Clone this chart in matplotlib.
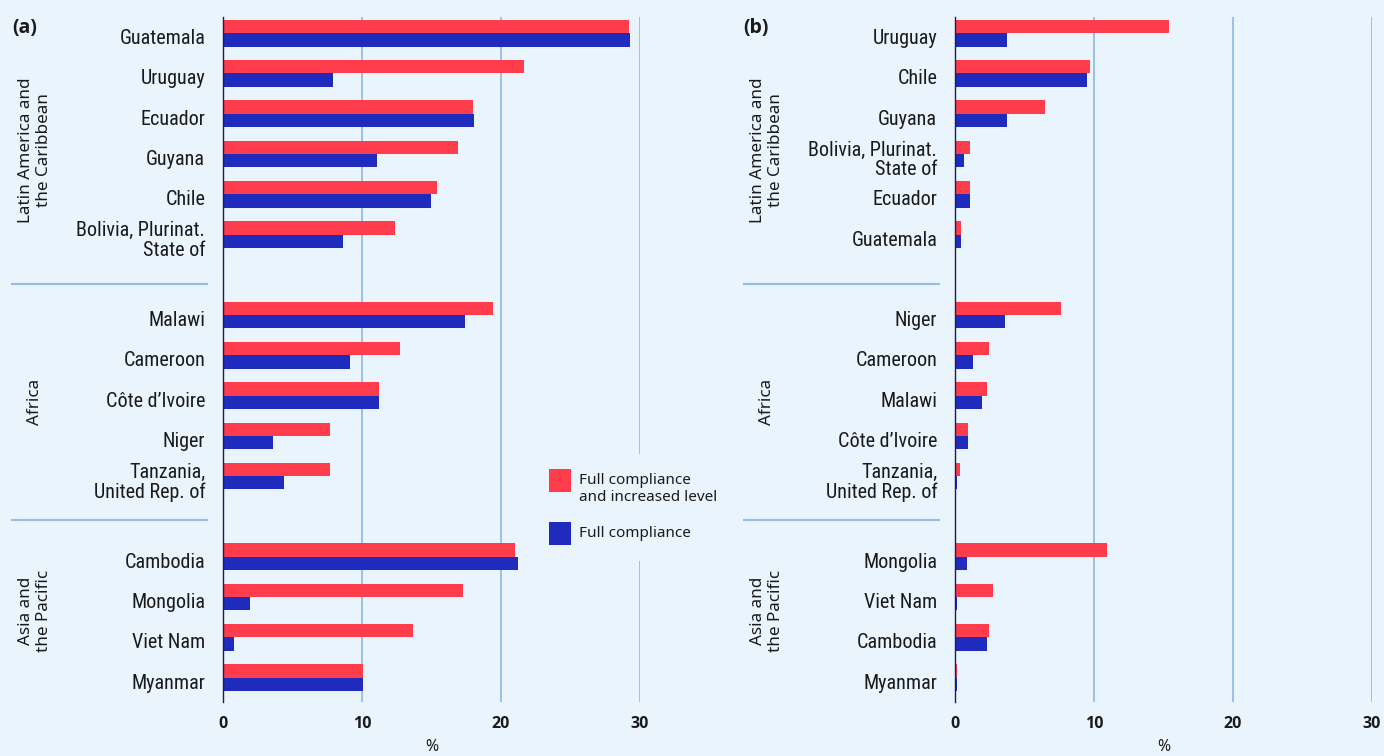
import matplotlib
matplotlib.use("Agg")
import matplotlib.pyplot as plt
from matplotlib import font_manager
from matplotlib.patches import Rectangle
import matplotlib.transforms as mtransforms
import os

# ---- data ----
regions = ["Latin America and\nthe Caribbean", "Africa", "Asia and\nthe Pacific"]

a_countries = ["Guatemala", "Uruguay", "Ecuador", "Guyana", "Chile", "Bolivia, Plurinat.\nState of",
               "Malawi", "Cameroon", "Côte d’Ivoire", "Niger", "Tanzania,\nUnited Rep. of",
               "Cambodia", "Mongolia", "Viet Nam", "Myanmar"]
a_increased = [29.2, 21.7, 18.0, 16.9, 15.4, 12.4,
               19.4, 12.7, 11.2, 7.7, 7.7,
               21.0, 17.3, 13.7, 10.1]
a_full = [29.3, 7.9, 18.1, 11.1, 15.0, 8.6,
          17.4, 9.1, 11.2, 3.6, 4.4,
          21.2, 1.9, 0.8, 10.1]

b_countries = ["Uruguay", "Chile", "Guyana", "Bolivia, Plurinat.\nState of", "Ecuador", "Guatemala",
               "Niger", "Cameroon", "Malawi", "Côte d’Ivoire", "Tanzania,\nUnited Rep. of",
               "Mongolia", "Viet Nam", "Cambodia", "Myanmar"]
b_increased = [15.4, 9.7, 6.5, 1.1, 1.05, 0.4,
               7.6, 2.4, 2.3, 0.9, 0.35,
               10.9, 2.7, 2.4, 0.1]
b_full = [3.7, 9.5, 3.7, 0.65, 1.05, 0.4,
          3.6, 1.3, 1.9, 0.9, 0.13,
          0.85, 0.13, 2.3, 0.13]

group_sizes = [6, 5, 4]
legend_labels = ["Full compliance\nand increased level", "Full compliance"]
xticks = [0, 10, 20, 30]

# ---- style ----
BG = "#eaf4fd"
RED = "#ff3c4c"
BLUE = "#1f2bbd"
GRID = "#93bde6"
SPINE = "#1b1b5e"
TXT = "#1a1a1a"
W, H = 1384, 756


def font_by_file(base, fallback_family, **kw):
    for f in font_manager.fontManager.ttflist:
        if os.path.basename(f.fname) == base:
            return font_manager.FontProperties(fname=f.fname, **kw)
    return font_manager.FontProperties(family=fallback_family, **kw)


cat_font = font_by_file("RobotoCondensed-Regular.ttf", "DejaVu Sans", size=14.5)
bold_tick = font_by_file("OpenSans-Bold.ttf", "DejaVu Sans", size=11.5)
bold_tag = font_by_file("OpenSans-Bold.ttf", "DejaVu Sans", size=14)

plt.rcParams["font.family"] = ["Noto Sans", "DejaVu Sans"]

# row positions: one blank row between regions
pos = []
start = 0
for n in group_sizes:
    pos += [start + i for i in range(n)]
    start += n + 1
seps = [6.22, 12.08]
ytop, ybot = -0.41, 16.6
bh = 0.33

fig = plt.figure(figsize=(W / 100, H / 100), dpi=100, facecolor=BG)
label_shift = mtransforms.ScaledTranslation(0, -3.5 / 100, fig.dpi_scale_trans)


def panel(left_px, countries, inc, full, tag):
    ax = fig.add_axes([left_px / W, 1 - 701.7 / H, 416.5 / W, (701.7 - 16.7) / H])
    ax.set_facecolor(BG)
    ax.barh([p - bh / 2 for p in pos], inc, height=bh, color=RED, zorder=2)
    ax.barh([p + bh / 2 for p in pos], full, height=bh, color=BLUE, zorder=2)
    ax.set_xlim(0, 30)
    ax.set_ylim(ybot, ytop)
    ax.set_xticks(xticks)
    ax.set_xticklabels([str(t) for t in xticks], fontproperties=bold_tick, color=TXT)
    ax.set_yticks(pos)
    ax.set_yticklabels(countries, fontproperties=cat_font, color=TXT, linespacing=1.05)
    ax.tick_params(axis="both", length=0)
    ax.tick_params(axis="y", pad=13)
    ax.tick_params(axis="x", pad=10)
    for lbl in ax.get_yticklabels():
        lbl.set_transform(lbl.get_transform() + label_shift)
    ax.grid(axis="x", color=GRID, lw=1.3, zorder=1)
    ax.set_axisbelow(True)
    for s in ["top", "right", "bottom"]:
        ax.spines[s].set_visible(False)
    ax.spines["left"].set_color(SPINE)
    ax.spines["left"].set_linewidth(1.0)
    ax.spines["left"].set_zorder(3)
    ax.set_xlabel("%", fontsize=11.5, color=TXT, labelpad=5)

    tr = mtransforms.blended_transform_factory(fig.transFigure, ax.transData)
    for y in seps:
        ax.plot([(left_px - 211) / W, (left_px - 16) / W], [y, y], transform=tr,
                color=GRID, lw=1.5, clip_on=False)
    bounds = [ytop] + seps + [ybot]
    for i, r in enumerate(regions):
        ax.text((left_px - 188) / W, (bounds[i] + bounds[i + 1]) / 2, r, transform=tr,
                rotation=90, ha="center", va="center", multialignment="center",
                fontsize=12.3, color=TXT)
    fig.text((left_px - 199) / W, 1 - 28 / H, tag, fontproperties=bold_tag,
             color=TXT, ha="center", va="center")
    return ax


ax_a = panel(223.2, a_countries, a_increased, a_full, "(a)")
ax_b = panel(955.2, b_countries, b_increased, b_full, "(b)")

# legend, drawn by hand so the swatch sits on the first text line
fig.add_artist(Rectangle((540 / W, 1 - 561 / H), 195 / W, 107 / H, transform=fig.transFigure,
                         facecolor=BG, edgecolor="none", zorder=5))
for col, lab, ytop_px in zip([RED, BLUE], legend_labels, [469, 522]):
    fig.add_artist(Rectangle((549 / W, 1 - (ytop_px + 23) / H), 22 / W, 23 / H,
                             transform=fig.transFigure, facecolor=col, edgecolor="none", zorder=6))
    fig.text(579 / W, 1 - (ytop_px + 4) / H, lab, fontsize=11, color=TXT, ha="left",
             va="top", linespacing=1.2, zorder=6)

fig.savefig("out.png", dpi=100, facecolor=BG)
